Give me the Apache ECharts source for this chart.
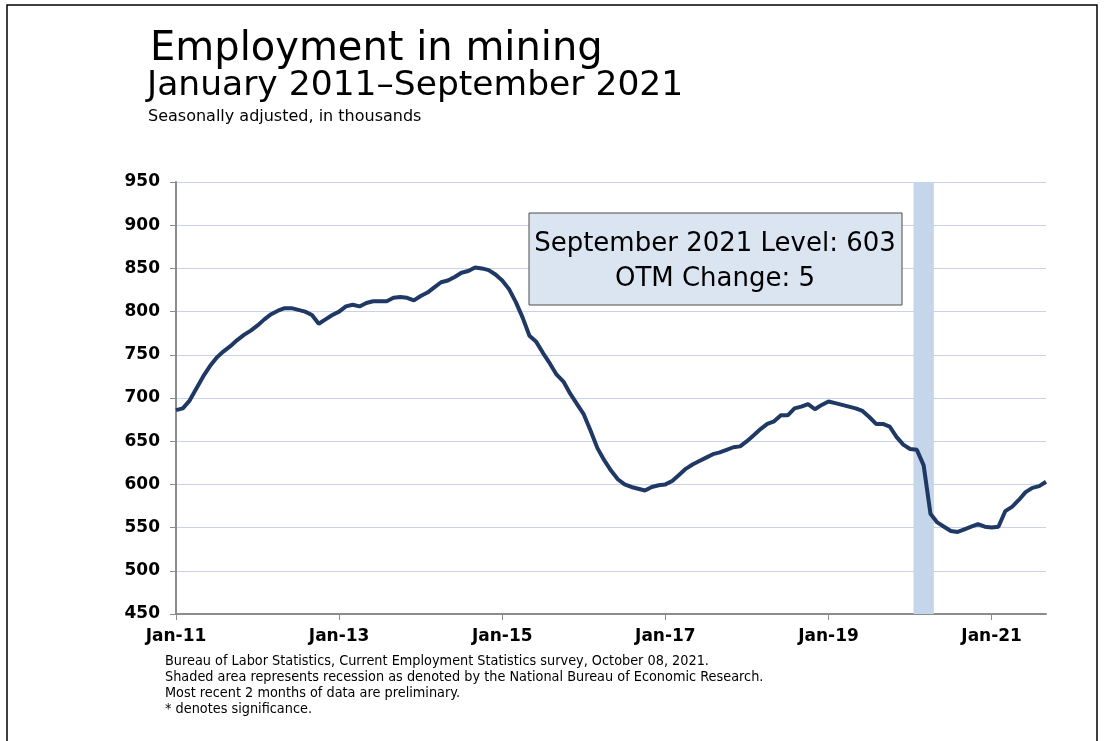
<!DOCTYPE html>
<html>
<head>
<meta charset="utf-8">
<script src="https://cdn.jsdelivr.net/npm/echarts@6/dist/echarts.min.js"></script>
<style>
    html,body{margin:0;padding:0;background:#fff;}
    #main{width:1106px;height:741px;}
</style>
</head>
<body>
<div id="main"></div>
<script>
// mining employment, seasonally adjusted, thousands (Jan 2011 - Sep 2021)
var y2011 = [686, 688, 697, 711, 725, 737, 747, 754, 760, 767, 773, 778];
var y2012 = [784, 791, 797, 801, 804, 804, 802, 800, 796, 786, 791, 796];
var y2013 = [800, 806, 808, 806, 810, 812, 812, 812, 816, 817, 816, 813];
var y2014 = [818, 822, 828, 834, 836, 840, 845, 847, 851, 850, 848, 843];
var y2015 = [836, 826, 811, 793, 772, 765, 752, 740, 727, 719, 705, 693];
var y2016 = [681, 662, 642, 628, 616, 606, 600, 597, 595, 593, 597, 599];
var y2017 = [600, 604, 611, 618, 623, 627, 631, 635, 637, 640, 643, 644];
var y2018 = [650, 657, 664, 670, 673, 680, 680, 688, 690, 693, 687, 692];
var y2019 = [696, 694, 692, 690, 688, 685, 678, 670, 670, 667, 655, 646];
var y2020 = [641, 640, 622, 566, 556, 551, 546, 545, 548, 551, 554, 551];
var y2021 = [550, 551, 569, 574, 582, 591, 596, 598, 603];

var tickLabels = ['Jan-11', 'Jan-13', 'Jan-15', 'Jan-17', 'Jan-19', 'Jan-21'];
var recessionMonths = ['2020-02', '2020-03', '2020-04'];
var footnotes = [
    'Bureau of Labor Statistics, Current Employment Statistics survey, October 08, 2021.',
    'Shaded area represents recession as denoted by the National Bureau of Economic Research.',
    'Most recent 2 months of data are preliminary.',
    '* denotes significance.'
];

var values = [].concat(y2011, y2012, y2013, y2014, y2015, y2016, y2017, y2018, y2019, y2020, y2021);
var seriesData = values.map(function (v, i) { return [i, v]; });

function monthIndex(s) {
    var p = s.split('-');
    return (parseInt(p[0], 10) - 2011) * 12 + parseInt(p[1], 10) - 1;
}
var recStart = monthIndex(recessionMonths[0]) - 0.5;
var recEnd = monthIndex(recessionMonths[recessionMonths.length - 1]) + 0.5;

var lastVal = values[values.length - 1];
var otm = lastVal - values[values.length - 2];

var chart = echarts.init(document.getElementById('main'));

var fontFam = '"DejaVu Sans", Verdana, sans-serif';
var graphics = [
    {type: 'rect', shape: {x: 7, y: 5, width: 1090, height: 760}, style: {fill: 'none', stroke: '#000', lineWidth: 1.5}, silent: true},
    {type: 'text', x: 150, y: 50, style: {text: 'Employment in mining', font: '40px ' + fontFam, fill: '#000', verticalAlign: 'middle'}},
    {type: 'text', x: 147, y: 86, style: {text: 'January 2011\u2013September 2021', font: '34.5px ' + fontFam, fill: '#000', verticalAlign: 'middle'}},
    {type: 'text', x: 148, y: 117, style: {text: 'Seasonally adjusted, in thousands', font: '16px ' + fontFam, fill: '#000', verticalAlign: 'middle'}},
    {type: 'rect', z: 10, shape: {x: 529, y: 213, width: 373, height: 92}, style: {fill: '#dbe5f1', stroke: '#4d4d4d', lineWidth: 1}},
    {type: 'text', z: 11, x: 715, y: 244, style: {text: 'September 2021 Level: ' + lastVal, font: '26px ' + fontFam, fill: '#000', align: 'center', verticalAlign: 'middle'}},
    {type: 'text', z: 11, x: 715, y: 279, style: {text: 'OTM Change: ' + otm, font: '26px ' + fontFam, fill: '#000', align: 'center', verticalAlign: 'middle'}}
];
footnotes.forEach(function (t, i) {
    graphics.push({type: 'text', x: 165, y: 661 + i * 16, scaleX: 0.92, style: {text: t, font: '14px ' + fontFam, fill: '#000', verticalAlign: 'middle'}});
});

chart.setOption({
    backgroundColor: '#fff',
    animation: false,
    graphic: graphics,
    grid: {left: 176, right: 60, top: 182, bottom: 127},
    xAxis: {
        type: 'value',
        min: 0,
        max: values.length - 1,
        interval: 24,
        axisLine: {lineStyle: {color: '#8c8c8c', width: 2}},
        axisTick: {show: true, length: 6, lineStyle: {color: '#8c8c8c'}},
        splitLine: {show: false},
        axisLabel: {
            color: '#000', fontSize: 17, fontWeight: 'bold', fontFamily: fontFam, margin: 14,
            showMaxLabel: false,
            formatter: function (v) { return v % 24 === 0 ? (tickLabels[v / 24] || '') : ''; }
        }
    },
    yAxis: {
        type: 'value',
        min: 450,
        max: 950,
        interval: 50,
        axisLine: {show: true, lineStyle: {color: '#8c8c8c', width: 2}},
        axisTick: {show: true, length: 6, lineStyle: {color: '#8c8c8c'}},
        splitLine: {lineStyle: {color: '#c8d2ee', width: 1}},
        axisLabel: {color: '#000', fontSize: 17, fontWeight: 'bold', fontFamily: fontFam, margin: 16}
    },
    series: [{
        type: 'line',
        data: seriesData,
        showSymbol: false,
        lineStyle: {color: '#1f3864', width: 4},
        markArea: {
            silent: true,
            itemStyle: {color: '#c5d5ea'},
            data: [[{xAxis: recStart}, {xAxis: recEnd}]]
        }
    }]
});
</script>
</body>
</html>
